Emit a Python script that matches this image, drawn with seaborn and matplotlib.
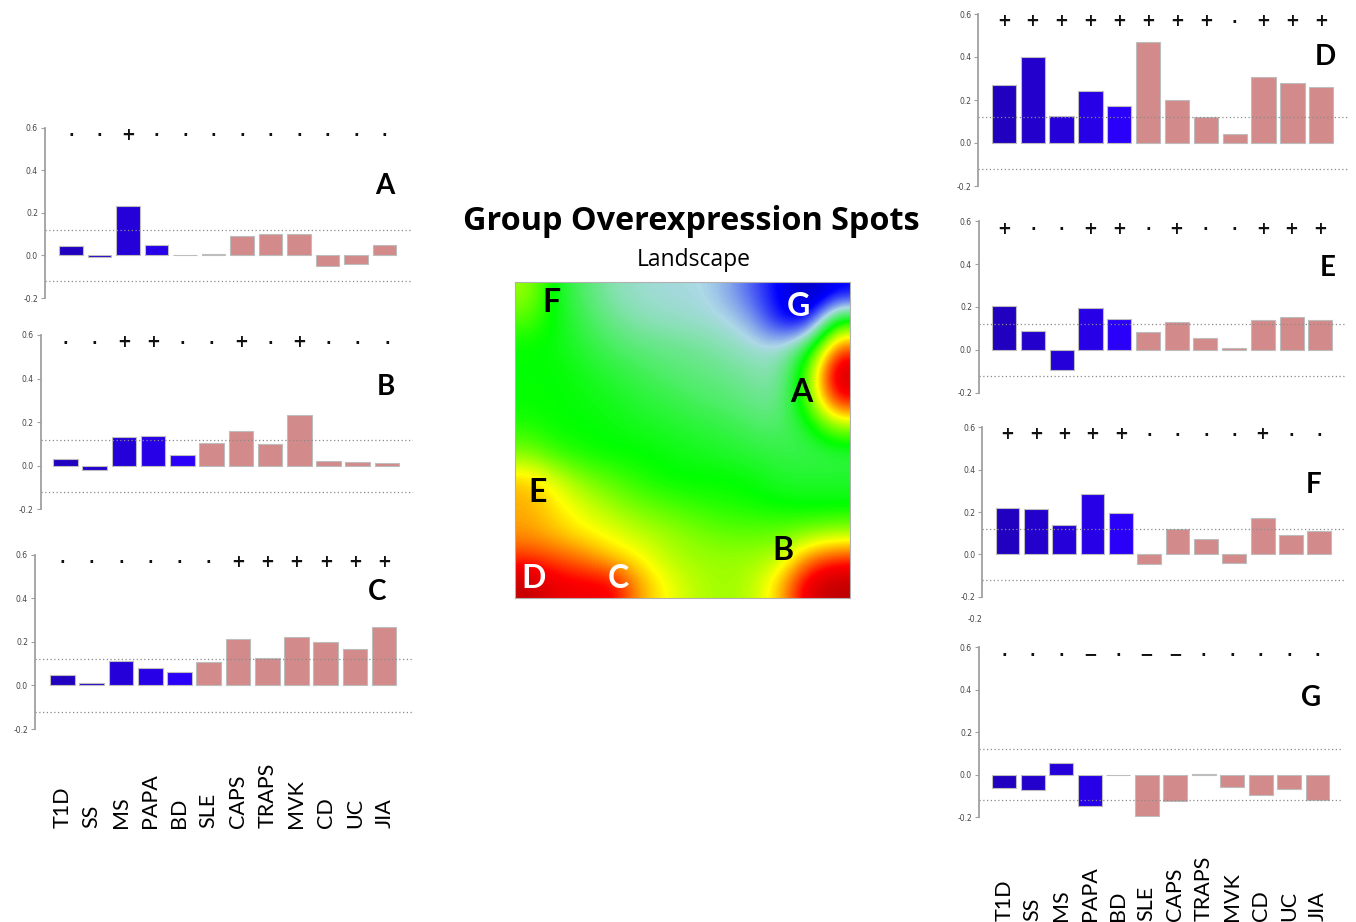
import numpy as np
import matplotlib
matplotlib.use("Agg")
from matplotlib import pyplot as plt
from matplotlib import transforms
from matplotlib.colors import LinearSegmentedColormap
import seaborn as sns

W, H = 1356, 922

groups = ["T1D", "SS", "MS", "PAPA", "BD", "SLE", "CAPS", "TRAPS", "MVK", "CD", "UC", "JIA"]
bar_colors = ["#2200c0", "#2400cc", "#2600d9", "#2800e8", "#2a00f8",
              "#d38a8a", "#d38a8a", "#d38a8a", "#d38a8a", "#d38a8a", "#d38a8a", "#d38a8a"]

spot_a = [0.042, -0.008, 0.23, 0.049, 0.003, 0.008, 0.091, 0.099, 0.102, -0.049, -0.039, 0.05]
spot_b = [0.029, -0.021, 0.133, 0.138, 0.049, 0.106, 0.159, 0.098, 0.231, 0.02, 0.015, 0.011]
spot_c = [0.046, 0.011, 0.112, 0.081, 0.06, 0.106, 0.212, 0.124, 0.222, 0.199, 0.169, 0.267]
spot_d = [0.268, 0.399, 0.127, 0.24, 0.173, 0.47, 0.198, 0.122, 0.042, 0.308, 0.277, 0.261]
spot_e = [0.206, 0.087, -0.094, 0.195, 0.142, 0.081, 0.132, 0.056, 0.009, 0.14, 0.154, 0.139]
spot_f = [0.219, 0.213, 0.137, 0.286, 0.196, -0.047, 0.118, 0.074, -0.041, 0.172, 0.092, 0.111]
spot_g = [-0.065, -0.071, 0.055, -0.146, -0.002, -0.197, -0.124, 0.005, -0.06, -0.098, -0.069, -0.118]

marks_a = ". . + . . . . . . . . .".split()
marks_b = ". . + + . . + . + . . .".split()
marks_c = ". . . . . . + + + + + +".split()
marks_d = "+ + + + + + + + . + + +".split()
marks_e = "+ . . + + . + . . + + +".split()
marks_f = "+ + + + + . . . . + . .".split()
marks_g = ". . . - . - - . . . . .".split()

threshold = 0.12
yticks = [-0.2, 0.0, 0.2, 0.4, 0.6]

landscape = [
    [0.60, 0.48, 0.42, 0.37, 0.35, 0.34, 0.34, 0.31, 0.24, 0.16, 0.06, 0.16],
    [0.55, 0.49, 0.44, 0.40, 0.37, 0.36, 0.35, 0.34, 0.30, 0.17, 0.15, 0.52],
    [0.50, 0.49, 0.46, 0.43, 0.41, 0.40, 0.39, 0.37, 0.35, 0.34, 0.45, 0.78],
    [0.50, 0.50, 0.48, 0.46, 0.44, 0.42, 0.41, 0.40, 0.38, 0.37, 0.56, 0.92],
    [0.50, 0.50, 0.49, 0.48, 0.46, 0.45, 0.43, 0.42, 0.40, 0.39, 0.55, 0.84],
    [0.52, 0.50, 0.50, 0.49, 0.48, 0.47, 0.46, 0.45, 0.43, 0.42, 0.47, 0.60],
    [0.58, 0.53, 0.51, 0.50, 0.50, 0.49, 0.48, 0.47, 0.46, 0.45, 0.44, 0.45],
    [0.70, 0.64, 0.58, 0.55, 0.52, 0.50, 0.50, 0.50, 0.49, 0.47, 0.47, 0.47],
    [0.72, 0.68, 0.64, 0.60, 0.57, 0.55, 0.53, 0.52, 0.51, 0.50, 0.49, 0.49],
    [0.73, 0.70, 0.67, 0.65, 0.62, 0.60, 0.58, 0.56, 0.56, 0.56, 0.58, 0.60],
    [0.80, 0.78, 0.75, 0.70, 0.67, 0.62, 0.60, 0.60, 0.60, 0.62, 0.75, 0.80],
    [0.92, 0.86, 0.85, 0.85, 0.72, 0.66, 0.62, 0.60, 0.62, 0.70, 0.88, 0.93],
]
portrait_colors = ["#00008b", "#0000ff", "#add8e6", "#00ff00", "#ffff00", "#ff0000", "#8b0000"]


def px_rect(left, top, right, bottom):
    return [left / W, 1 - bottom / H, (right - left) / W, (bottom - top) / H]


def px_text(x, y, s, **kw):
    fig.text(x / W, 1 - y / H, s, **kw)


fig = plt.figure(figsize=(W / 100, H / 100), dpi=100)

# name, values, marks, axis x, dotted end x, first bar x, last bar x, top y, bottom y, letter x, letter y
panels = [
    ("A", spot_a, marks_a, 45, 412, 71, 384.5, 127.7, 298, 385, 186),
    ("B", spot_b, marks_b, 40.7, 413, 65.5, 387, 335, 509.3, 386, 387),
    ("C", spot_c, marks_c, 35, 412, 62.5, 384.2, 554.7, 729, 377, 592),
    ("D", spot_d, marks_d, 978.3, 1348, 1003.8, 1321.3, 14, 186, 1325, 57),
    ("E", spot_e, marks_e, 979, 1347, 1004.2, 1320.4, 221.3, 392.7, 1328, 268),
    ("F", spot_f, marks_f, 982.3, 1345, 1007.5, 1319.3, 427.3, 596.7, 1314, 485),
    ("G", spot_g, marks_g, 979, 1343, 1004.3, 1317.5, 647.3, 817, 1311, 698),
]
symbols = {"+": "+", ".": "\u00b7", "-": "\u2212"}

axes = {}
for name, values, marks, ax_x, end_x, c0, c11, top, bottom, lx, ly in panels:
    ax = fig.add_axes(px_rect(ax_x, top, end_x, bottom))
    sns.barplot(x=groups, y=values, hue=groups, order=groups, hue_order=groups,
                palette=dict(zip(groups, bar_colors)), legend=False, width=0.84,
                edgecolor="#bdbdbd", linewidth=0.8, saturation=1, ax=ax)
    slot = (c11 - c0) / 11
    ax.set_xlim((ax_x - c0) / slot, (end_x - c0) / slot)
    ax.set_ylim(-0.2, 0.6)
    ax.set_yticks(yticks)
    ax.set_yticklabels(["%.1f" % t for t in yticks])
    ax.set_xticks([])
    ax.set_xlabel("")
    ax.set_ylabel("")
    for side in ["top", "right", "bottom"]:
        ax.spines[side].set_visible(False)
    ax.spines["left"].set_color("#a0a0a0")
    ax.spines["left"].set_linewidth(1.3)
    ax.tick_params(axis="y", length=3, width=0.8, color="#a0a0a0", pad=2,
                   labelsize=5.5, labelcolor="#444444")
    ax.patch.set_alpha(0)
    for t in [threshold, -threshold]:
        ax.axhline(t, ls=(0, (1, 2)), color="#8a8a8a", lw=0.9)
    for i, m in enumerate(marks):
        if m == ".":
            ax.text(i, 0.562, symbols[m], ha="center", va="center", fontsize=11,
                    fontweight="bold", color="#111111")
        else:
            ax.text(i, 0.566, symbols[m], ha="center", va="center", fontsize=12,
                    fontweight="bold", color="#111111")
    px_text(lx, ly, name, ha="center", va="center", fontsize=20, fontweight="bold",
            family="Lato", color="black")
    axes[name] = ax

# group labels under the left and right columns
for ax, y_base in [(axes["C"], 828), (axes["G"], 921)]:
    trans = transforms.blended_transform_factory(ax.transData, fig.transFigure)
    for i, g in enumerate(groups):
        ax.text(i, 1 - y_base / H, g, transform=trans, rotation=90, ha="center",
                va="bottom", fontsize=15.5, family="Lato", color="black")

px_text(975, 619, "-0.2", ha="center", va="center", fontsize=5.5, color="#444444")

# landscape portrait
cmap = LinearSegmentedColormap.from_list("portrait", portrait_colors)
ax_h = fig.add_axes(px_rect(515, 282, 850, 598))
ax_h.imshow(np.array(landscape), cmap=cmap, vmin=0, vmax=1, interpolation="bicubic",
            aspect="auto")
ax_h.set_xticks([])
ax_h.set_yticks([])
for s in ax_h.spines.values():
    s.set_color("#b0b0b0")
    s.set_linewidth(0.8)

spot_labels = [("F", 551, 303, "black"), ("G", 798, 306, "white"), ("A", 801, 392, "black"),
               ("E", 538, 492, "black"), ("B", 783, 550, "black"), ("D", 534, 578, "white"),
               ("C", 618, 578, "white")]
for s, x, y, c in spot_labels:
    px_text(x, y, s, ha="center", va="center", fontsize=23, fontweight="bold",
            family="Lato", color=c)

px_text(691, 222, "Group Overexpression Spots", ha="center", va="center", fontsize=23.3,
        fontweight="bold", family="Open Sans")
px_text(694, 260, "Landscape", ha="center", va="center", fontsize=16.5, family="Open Sans")

fig.savefig("out.png", dpi=100)
